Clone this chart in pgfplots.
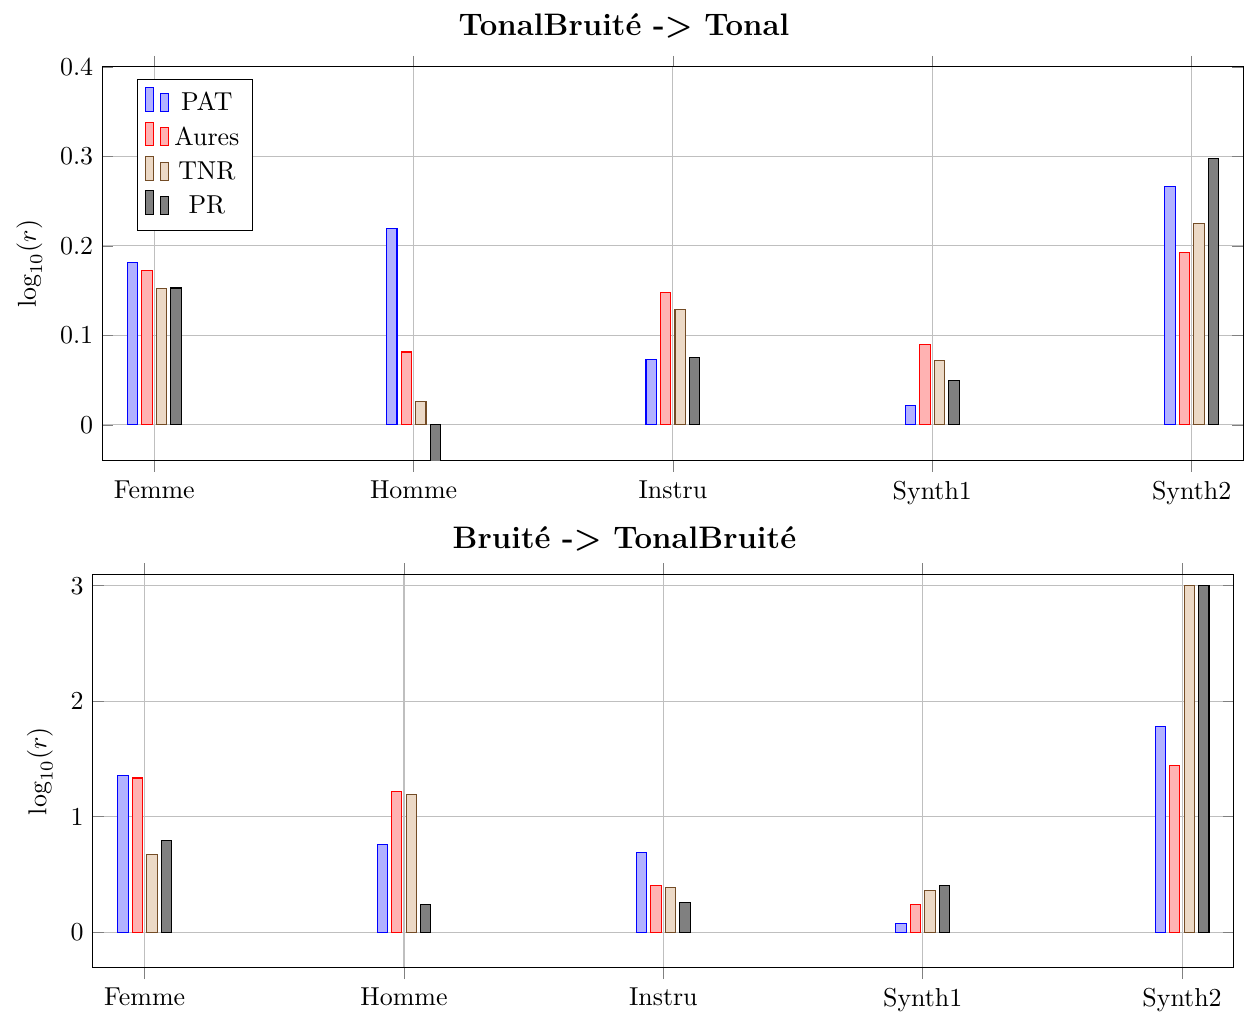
\documentclass[border=0pt]{standalone}
\usepackage{pgfplots}
\pgfplotsset{compat=1.18}
\begin{document}
\begin{tikzpicture}
\pgfplotsset{
  mybars/.style={
    ybar=1.6pt, bar width=4pt,
    width=440.5pt, height=152pt, scale only axis,
    xmin=-0.2, xmax=4.2,
    xtick={0,1,2,3,4}, xticklabels={Femme,Homme,Instru,Synth1,Synth2},
    grid=major,
    ylabel={$\log_{10}(r)$},
    title style={font=\large\bfseries},
    legend cell align=center,
    legend image code/.code={%
      \draw[##1,/tikz/.cd,yshift=-0.3em]
        (0cm,0cm) rectangle (3pt,0.92em)
        (6pt,0cm) rectangle (9pt,0.7em);},
  }
}
\begin{axis}[mybars, ymin=-0.04, ymax=0.4, ytick={0,0.1,0.2,0.3,0.4},
  title={TonalBruité -> Tonal}, title style={xshift=-18.9pt, yshift=1.5pt},
  legend pos=north west, legend style={row sep=0.6pt, inner ysep=3pt},
  yticklabel style={/pgf/number format/fixed}]
\addplot coordinates {(0,0.182) (1,0.2195) (2,0.0733) (3,0.022) (4,0.266)};
\addplot coordinates {(0,0.173) (1,0.0815) (2,0.148) (3,0.0896) (4,0.1927)};
\addplot coordinates {(0,0.152) (1,0.026) (2,0.129) (3,0.0725) (4,0.225)};
\addplot coordinates {(0,0.153) (1,-0.1) (2,0.0755) (3,0.050) (4,0.2976)};
\legend{PAT,Aures,TNR,PR}
\end{axis}
\begin{axis}[mybars, at={(-3.7pt,-43.8pt)}, anchor=north west,
  ymin=-0.31, ymax=3.1, ytick={0,1,2,3},
  title={Bruité -> TonalBruité}, title style={xshift=-15pt, yshift=-0.5pt}]
\addplot coordinates {(0,1.358) (1,0.762) (2,0.691) (3,0.072) (4,1.781)};
\addplot coordinates {(0,1.335) (1,1.214) (2,0.406) (3,0.242) (4,1.445)};
\addplot coordinates {(0,0.674) (1,1.192) (2,0.389) (3,0.36) (4,3.0)};
\addplot coordinates {(0,0.791) (1,0.238) (2,0.259) (3,0.40) (4,3.0)};
\end{axis}
\path ([xshift=-3pt,yshift=2pt]current bounding box.north west);
\end{tikzpicture}
\end{document}
